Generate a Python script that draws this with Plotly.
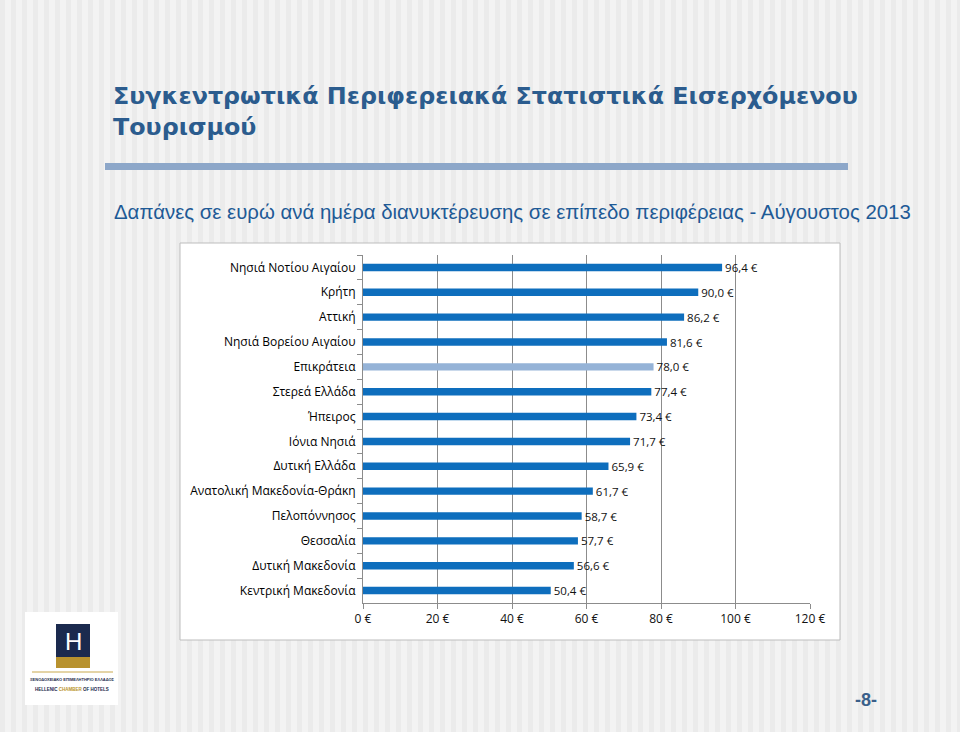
import plotly.graph_objects as go

regions = ["Νησιά Νοτίου Αιγαίου", "Κρήτη", "Αττική", "Νησιά Βορείου Αιγαίου",
           "Επικράτεια", "Στερεά Ελλάδα", "Ήπειρος", "Ιόνια Νησιά", "Δυτική Ελλάδα",
           "Ανατολική Μακεδονία-Θράκη", "Πελοπόννησος", "Θεσσαλία",
           "Δυτική Μακεδονία", "Κεντρική Μακεδονία"]
spend = [96.4, 90.0, 86.2, 81.6, 78.0, 77.4, 73.4, 71.7, 65.9, 61.7, 58.7, 57.7, 56.6, 50.4]
x_ticks = [0, 20, 40, 60, 80, 100, 120]
x_tick_labels = [f"{v} €" for v in x_ticks]

title_text = "Συγκεντρωτικά Περιφερειακά Στατιστικά Εισερχόμενου<br>Τουρισμού"
subtitle_text = "Δαπάνες σε ευρώ ανά ημέρα διανυκτέρευσης σε επίπεδο περιφέρειας - Αύγουστος 2013"

W, H = 960, 732
L, R, T, B = 363, 810, 255, 603


def px(x):
    return (x - L) / (R - L)


def py(y):
    return (B - y) / (B - T)


bar_colors = ["#95B3D7" if r == "Επικράτεια" else "#0E6EBD" for r in regions]

fig = go.Figure(go.Bar(
    y=regions, x=spend, orientation="h",
    marker=dict(color=bar_colors, line=dict(width=0)),
    width=0.3,
    texttemplate="%{x:.1f} €", textposition="outside", constraintext="none",
    textfont=dict(family="Open Sans", size=11.5, color="#111111"),
    cliponaxis=False,
))

shapes = []
# background stripes
for sx in range(0, W, 11):
    shapes.append(dict(type="rect", xref="paper", yref="paper",
                       x0=px(sx), x1=px(sx + 5), y0=py(H), y1=py(0),
                       fillcolor="#EBEBEB", line=dict(width=0), layer="below"))
# chart box
shapes.append(dict(type="rect", xref="paper", yref="paper",
                   x0=px(180), x1=px(840), y0=py(640), y1=py(243),
                   fillcolor="white", line=dict(color="#BDBDBD", width=1), layer="below"))
# title underline bar
shapes.append(dict(type="rect", xref="paper", yref="paper",
                   x0=px(105), x1=px(848), y0=py(170), y1=py(163),
                   fillcolor="#8DA7C9", line=dict(width=0), layer="below"))
# logo
shapes.append(dict(type="rect", xref="paper", yref="paper",
                   x0=px(25), x1=px(118), y0=py(705), y1=py(612),
                   fillcolor="white", line=dict(width=0), layer="below"))
shapes.append(dict(type="rect", xref="paper", yref="paper",
                   x0=px(56), x1=px(90), y0=py(657), y1=py(624),
                   fillcolor="#1B2A4E", line=dict(width=0), layer="below"))
shapes.append(dict(type="rect", xref="paper", yref="paper",
                   x0=px(56), x1=px(90), y0=py(668), y1=py(657),
                   fillcolor="#B8922E", line=dict(width=0), layer="below"))
shapes.append(dict(type="line", xref="paper", yref="paper",
                   x0=px(32), x1=px(113), y0=py(672), y1=py(672),
                   line=dict(color="#C9A94E", width=1), layer="below"))

annotations = [
    dict(text="<b>" + title_text + "</b>", xref="paper", yref="paper",
         x=px(111), y=py(80), xanchor="left", yanchor="top", align="left",
         showarrow=False, font=dict(family="DejaVu Sans", size=23.8, color="#2B5C8E")),
    dict(text=subtitle_text, xref="paper", yref="paper",
         x=px(112), y=py(212), xanchor="left", yanchor="middle", align="left",
         showarrow=False, font=dict(family="Liberation Sans", size=20.4, color="#1E5A96")),
    dict(text="H", xref="paper", yref="paper", x=px(73), y=py(641),
         xanchor="center", yanchor="middle", showarrow=False,
         font=dict(family="Liberation Sans", size=24, color="white")),
    dict(text="<b>ΞΕΝΟΔΟΧΕΙΑΚΟ ΕΠΙΜΕΛΗΤΗΡΙΟ ΕΛΛΑΔΟΣ</b>", xref="paper", yref="paper",
         x=px(72), y=py(679), xanchor="center", yanchor="middle", showarrow=False,
         font=dict(family="Liberation Sans", size=4, color="#1B2A4E")),
    dict(text="<b>HELLENIC <span style='color:#B8922E'>CHAMBER</span> OF HOTELS</b>",
         xref="paper", yref="paper",
         x=px(72), y=py(689), xanchor="center", yanchor="middle", showarrow=False,
         font=dict(family="Liberation Sans", size=4.5, color="#1B2A4E")),
    dict(text="<b>-8-</b>", xref="paper", yref="paper", x=px(866), y=py(700),
         xanchor="center", yanchor="middle", showarrow=False,
         font=dict(family="Liberation Sans", size=18, color="#3A5F8A")),
]

fig.update_layout(
    width=W, height=H,
    margin=dict(l=L, r=W - R, t=T, b=H - B, pad=0),
    paper_bgcolor="#F3F3F3",
    plot_bgcolor="rgba(0,0,0,0)",
    showlegend=False,
    separators=",.",
    shapes=shapes,
    annotations=annotations,
    xaxis=dict(range=[0, 120], tickvals=x_ticks, ticktext=x_tick_labels,
               showgrid=True, gridcolor="#8C8C8C", gridwidth=1,
               showline=True, linecolor="#8C8C8C", linewidth=1,
               ticks="outside", ticklen=5, tickcolor="#8C8C8C",
               zeroline=False, fixedrange=True,
               tickfont=dict(family="Open Sans", size=12, color="#111111")),
    yaxis=dict(autorange="reversed", showline=True, linecolor="#8C8C8C", linewidth=1,
               ticks="outside", ticklen=5, tickcolor="#8C8C8C", tickson="boundaries",
               showgrid=False, ticklabelstandoff=4,
               tickfont=dict(family="Open Sans", size=12, color="#000000")),
)

fig.write_html("out.html", config={"displayModeBar": False},
               post_script="document.body.style.margin='0';")
